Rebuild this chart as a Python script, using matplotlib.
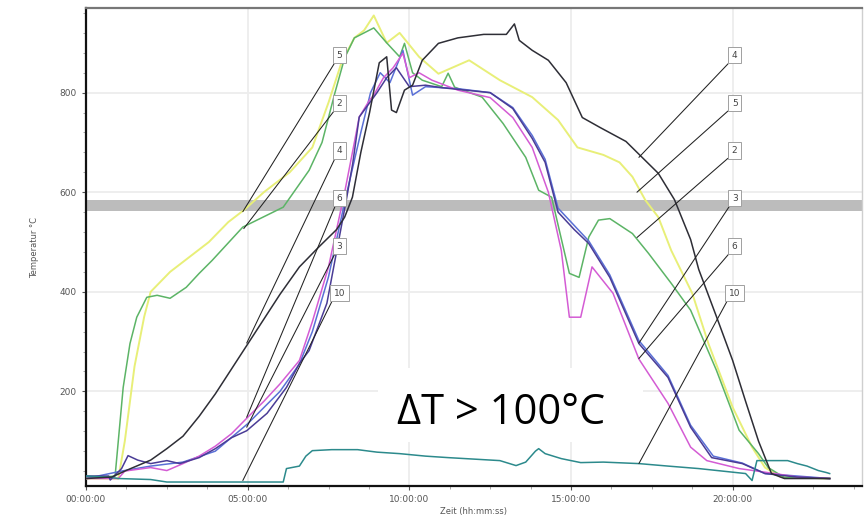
import matplotlib
matplotlib.use("Agg")
import matplotlib.pyplot as plt
from matplotlib.ticker import MultipleLocator, FuncFormatter
from matplotlib.patches import Rectangle

# ---- data (time in hours, temperature in °C) ----
t_yellow = [0, 1.0, 1.2, 1.5, 1.8, 2.0, 2.6, 3.3, 3.8, 4.4, 4.9, 5.5, 6.3, 7.0, 7.5, 7.9, 8.3, 8.6, 8.9, 9.3, 9.7,
            10.3, 10.9, 11.85, 12.8, 13.8, 14.6, 15.2, 16.0, 16.5, 16.9, 17.3, 17.7, 18.1, 18.75, 19.25, 20.0,
            20.6, 21.0, 21.5, 23.0]
v_yellow = [25, 25, 100, 250, 350, 400, 440, 475, 500, 540, 565, 600, 640, 690, 780, 860, 910, 925, 955, 900, 920,
            872, 838, 865, 825, 791, 745, 690, 675, 660, 631, 584, 550, 483, 397, 296, 168,
            88, 47, 28, 25]

t_green = [0, 0.9, 1.15, 1.36, 1.57, 1.88, 2.2, 2.6, 3.1, 3.5, 3.9, 4.85, 6.1, 6.9, 7.3, 7.7, 8.0, 8.3, 8.9, 9.3,
           9.7, 9.85, 10.1, 10.4, 11.0, 11.2, 11.4, 12.25, 12.9, 13.6, 14.0, 14.4, 14.95, 15.25, 15.55, 15.85, 16.2,
           16.9, 17.4, 18.1, 18.7, 19.5, 20.2, 20.8, 21.1, 21.6, 23.0]
v_green = [25, 30, 208, 296, 349, 389, 393, 387, 409, 437, 463, 530, 570, 644, 700, 800, 870, 910, 930, 900,
           872, 899, 840, 825, 812, 839, 811, 791, 738, 670, 604, 590, 437, 429, 510, 544, 547,
           517, 477, 417, 363, 242, 122, 75, 47, 27, 25]

t_black = [0, 0.8, 1.2, 2.0, 2.5, 3.0, 3.5, 4.0, 4.5, 5.0, 5.5, 6.0, 6.6, 7.2, 7.75, 8.0, 8.24, 8.5, 8.77, 9.07,
           9.3, 9.45, 9.6, 9.85, 10.1, 10.4, 10.9, 11.5, 12.3, 13.0, 13.25, 13.4, 13.8, 14.3, 14.85, 15.35, 15.9,
           16.7, 17.7, 18.2, 18.7, 18.95, 19.5, 20.0, 20.4, 20.8, 21.2, 21.6, 23.0]
v_black = [25, 28, 40, 62, 85, 110, 150, 195, 245, 295, 345, 395, 450, 490, 525, 550, 590, 680, 760, 860,
           872, 765, 760, 805, 815, 865, 899, 910, 917, 917, 938, 905, 885, 865, 820, 750, 730,
           702, 638, 585, 505, 445, 350, 262, 180, 100, 35, 25, 25]

t_navy = [0, 0.7, 0.75, 1.1, 1.3, 1.6, 2.0, 2.5, 2.9, 3.5, 4.0, 4.5, 4.97, 5.6, 6.2, 6.6, 6.9, 7.45, 8.05, 8.25,
          8.45, 9.0, 9.3, 9.6, 10.0, 10.5, 11.0, 11.75, 12.5, 13.2, 13.8, 14.2, 14.6, 15.1, 15.55, 16.2, 17.1,
          18.0, 18.7, 19.35, 20.3, 21.0, 22.0, 23.0]
v_navy = [30, 30, 22, 45, 71, 62, 55, 61, 55, 67, 85, 107, 121, 156, 208, 256, 282, 377, 584, 658,
          751, 800, 830, 850, 812, 815, 810, 805, 800, 768, 708, 660, 560, 525, 497, 429, 296,
          228, 128, 67, 55, 35, 28, 25]

t_blue = [0, 1.1, 2.0, 3.0, 4.0, 5.0, 6.0, 6.6, 7.0, 7.5, 8.0, 8.5, 8.8, 9.1, 9.4, 9.8, 10.1, 10.5, 11.5, 12.5,
          13.2, 13.8, 14.2, 14.6, 15.55, 16.2, 17.1, 18.0, 18.7, 19.4, 20.3, 21.0, 23.0]
v_blue = [25, 40, 50, 58, 80, 135, 200, 255, 320, 430, 580, 720, 800, 840, 820, 885, 795, 812, 808, 800,
          770, 714, 666, 568, 502, 434, 302, 232, 132, 70, 56, 35, 25]

t_magenta = [0, 1.0, 1.2, 2.0, 2.5, 3.0, 3.5, 4.0, 4.5, 5.0, 5.5, 6.0, 6.6, 7.0, 7.5, 8.0, 8.3, 8.45, 8.77, 8.9,
             9.2, 9.5, 9.8, 10.0, 10.3, 10.7, 11.5, 12.5, 13.2, 13.8, 14.3, 14.7, 14.95, 15.3, 15.65, 16.3,
             17.1, 18.0, 18.7, 19.2, 20.2, 21.3, 22.0, 23.0]
v_magenta = [25, 25, 40, 47, 41, 55, 70, 90, 115, 148, 180, 215, 262, 340, 450, 600, 700, 751, 785, 795,
             830, 850, 879, 830, 840, 825, 805, 790, 750, 690, 600, 483, 349, 349, 450, 397,
             265, 176, 88, 61, 45, 35, 28, 25]

t_teal = [0, 0.7, 1.0, 2.0, 2.5, 4.0, 6.1, 6.2, 6.6, 6.8, 7.0, 7.6, 8.4, 9.0, 9.7, 10.5, 11.2, 12.0, 12.8, 13.1,
          13.3, 13.6, 13.9, 14.0, 14.2, 14.7, 15.3, 16.0, 17.1, 18.0, 18.95, 20.4, 20.6, 20.75, 21.7, 22.0,
          22.3, 22.65, 22.9, 23.0]
v_teal = [30, 28, 25, 23, 18, 18, 18, 45, 50, 70, 81, 83, 83, 78, 75, 70, 67, 64, 61, 55,
          51, 58, 80, 85, 75, 65, 57, 58, 55, 50, 45, 35, 21, 61, 61, 55,
          50, 41, 37, 35]

# label anchor points on curves (time h, temp °C)
left_labels = ["5", "2", "4", "6", "3", "10"]
left_targets_t = [4.85, 4.88, 4.97, 4.97, 4.97, 4.85]
left_targets_v = [561, 527, 297, 148, 128, 21]
right_labels = ["4", "5", "2", "3", "6", "10"]
right_targets_t = [17.1, 17.04, 17.04, 17.1, 17.1, 17.1]
right_targets_v = [670, 600, 509, 297, 266, 55]
label_box_v = [875, 779, 684, 588, 492, 397]

band_low, band_high = 562, 584
annotation_text = "\u0394T > 100°C"

# ---- figure ----
fig = plt.figure(figsize=(8.65, 5.23), dpi=100)
ax = fig.add_axes([86 / 865, 1 - 486 / 523, (862 - 86) / 865, (486 - 8) / 523])
ax.set_xlim(0, 24)
ax.set_ylim(10, 970)

ax.axhspan(band_low, band_high, color="#bcbcbc", zorder=1, lw=0)

lw = 1.1
ax.plot(t_yellow, v_yellow, color="#e8ef78", lw=lw + 0.3, zorder=3)
ax.plot(t_green, v_green, color="#5cb466", lw=lw, zorder=3)
ax.plot(t_black, v_black, color="#2e2e36", lw=lw, zorder=4)
ax.plot(t_blue, v_blue, color="#5a70d6", lw=lw, zorder=3)
ax.plot(t_magenta, v_magenta, color="#d45cd4", lw=lw, zorder=3)
ax.plot(t_navy, v_navy, color="#4a3c96", lw=lw, zorder=3)
ax.plot(t_teal, v_teal, color="#2c8a8c", lw=lw, zorder=3)

# grid / ticks
ax.xaxis.set_major_locator(MultipleLocator(5))
ax.xaxis.set_minor_locator(MultipleLocator(1.25))
ax.yaxis.set_major_locator(MultipleLocator(200))
ax.yaxis.set_minor_locator(MultipleLocator(40))
ax.xaxis.set_major_formatter(FuncFormatter(lambda x, p: f"{int(round(x)):02d}:00:00"))
ax.yaxis.set_major_formatter(FuncFormatter(lambda y, p: f"{int(y)}"))
ax.grid(True, which="major", color="#ededed", lw=1.3, zorder=0)
ax.set_axisbelow(True)
ax.tick_params(axis="both", which="major", labelsize=6.5, labelcolor="#555555", color="#555555",
               length=3, width=0.8)
ax.tick_params(axis="both", which="minor", color="#999999", length=2, width=0.6)

for s in ["left", "bottom"]:
    ax.spines[s].set_color("#111111")
    ax.spines[s].set_linewidth(1.6)
ax.spines["top"].set_color("#777777")
ax.spines["top"].set_linewidth(1.6)
ax.spines["right"].set_color("#cfcfcf")
ax.spines["right"].set_linewidth(1.0)

ax.set_ylabel("Temperatur °C", fontsize=6, color="#555555", labelpad=15)
ax.set_xlabel("Zeit (hh:mm:ss)", fontsize=6, color="#555555", labelpad=2)

# labels with leader lines
box_style = dict(boxstyle="square,pad=0.4", fc="white", ec="#a0a0a0", lw=0.7)
arrow_style = dict(arrowstyle="-", color="#222222", lw=0.75, relpos=(0, 0), shrinkA=0, shrinkB=0)
x_left = (340 - 86) / 32.4
x_right = (736 - 86) / 32.4
for lab, tt, vv, by in zip(left_labels, left_targets_t, left_targets_v, label_box_v):
    ax.annotate(lab, xy=(tt, vv), xytext=(x_left, by), fontsize=6.5, color="#444444",
                ha="center", va="center", bbox=box_style, arrowprops=arrow_style, zorder=6)
for lab, tt, vv, by in zip(right_labels, right_targets_t, right_targets_v, label_box_v):
    ax.annotate(lab, xy=(tt, vv), xytext=(x_right, by), fontsize=6.5, color="#444444",
                ha="center", va="center", bbox=box_style, arrowprops=arrow_style, zorder=6)

# white box with big annotation
ax.add_patch(Rectangle((378 / 865, 1 - 442 / 523), (643 - 378) / 865, (442 - 368) / 523,
                       transform=fig.transFigure, facecolor="white", edgecolor="none", zorder=7))
fig.text(501 / 865, 1 - 413 / 523, annotation_text, fontsize=30, color="black",
         family=["Open Sans", "DejaVu Sans"], ha="center", va="center", zorder=8)

fig.savefig("out.png", dpi=100)
